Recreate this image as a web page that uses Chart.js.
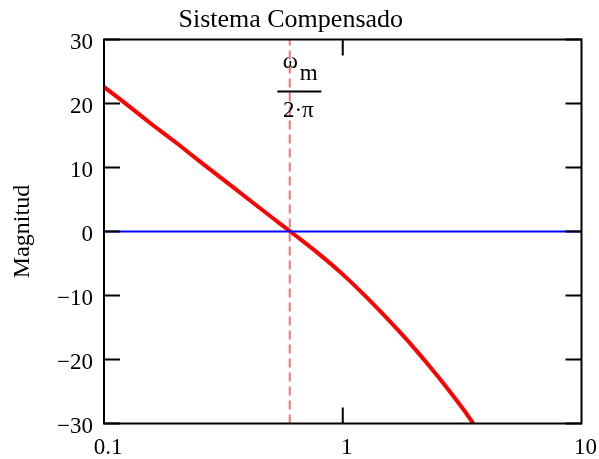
<!DOCTYPE html>
<html>
<head>
<meta charset="utf-8">
<script src="https://cdn.jsdelivr.net/npm/chart.js@4"></script>
<style>
  html, body { margin: 0; padding: 0; background: #fff; }
  canvas { display: block; }
</style>
</head>
<body>
<canvas id="chart" width="599" height="459"></canvas>
<script>
// valores
const freq = [0.1, 0.126, 0.158, 0.2, 0.251, 0.316, 0.398, 0.501, 0.603, 0.794, 1, 1.26, 1.58, 2, 2.51, 3.16, 3.55];
const magnitud = [22.6, 19.7, 16.8, 13.9, 11.0, 8.1, 5.2, 2.3, 0, -3.5, -6.7, -10.3, -14.1, -18.3, -22.7, -27.5, -30.2];
const cero = [0, 0];
const cruce = 0.6; // ω_m / 2π
const xTicks = [0.1, 1, 10];
const yTicks = [-30, -20, -10, 0, 10, 20, 30];

const FONT = "'Liberation Serif', 'DejaVu Serif', serif";

// marco y marcas hacia adentro, estilo Mathcad
const framePlugin = {
    id: "frame",
    afterDatasetsDraw(chart) {
        const { ctx, chartArea: a, scales } = chart;
        const len = 16;
        ctx.save();
        ctx.strokeStyle = "#000";
        ctx.lineWidth = 2;
        ctx.strokeRect(a.left, a.top, a.right - a.left, a.bottom - a.top);
        ctx.beginPath();
        yTicks.forEach(v => {
            const y = scales.y.getPixelForValue(v);
            ctx.moveTo(a.left, y); ctx.lineTo(a.left + len, y);
            ctx.moveTo(a.right, y); ctx.lineTo(a.right - len, y);
        });
        xTicks.slice(1, -1).forEach(v => {
            const x = scales.x.getPixelForValue(v);
            ctx.moveTo(x, a.top); ctx.lineTo(x, a.top + len);
            ctx.moveTo(x, a.bottom); ctx.lineTo(x, a.bottom - len);
        });
        ctx.stroke();

        // etiqueta ω_m / 2·π junto a la línea discontinua
        const x0 = scales.x.getPixelForValue(cruce);
        ctx.fillStyle = "#000";
        ctx.font = "23px " + FONT;
        ctx.textBaseline = "middle";
        ctx.textAlign = "center";
        ctx.fillText("ω", x0 + 0.5, 62);
        ctx.fillText("m", x0 + 19, 74);
        ctx.fillText("2·π", x0 + 8.5, 111);
        ctx.lineWidth = 2;
        ctx.beginPath();
        ctx.moveTo(x0 - 12.5, 91.5);
        ctx.lineTo(x0 + 31.5, 91.5);
        ctx.stroke();
        ctx.restore();
    }
};

const ctx = document.getElementById("chart").getContext("2d");
new Chart(ctx, {
    type: "line",
    data: {
        datasets: [
            {
                data: [cruce, cruce].map((x, i) => ({ x, y: [-30, 30][i] })),
                borderColor: "rgba(240, 90, 90, 0.85)",
                borderWidth: 2,
                borderDash: [9, 5],
                pointRadius: 0
            },
            {
                data: [0.1, 10].map((x, i) => ({ x, y: cero[i] })),
                borderColor: "#0000ff",
                borderWidth: 1.8,
                pointRadius: 0
            },
            {
                data: freq.map((x, i) => ({ x, y: magnitud[i] })),
                borderColor: "#ff0000",
                borderWidth: 4,
                pointRadius: 0,
                tension: 0.4
            }
        ]
    },
    options: {
        responsive: false,
        animation: false,
        layout: { padding: { left: 0, right: 17.5, top: 0, bottom: 0 } },
        plugins: {
            legend: { display: false },
            tooltip: { enabled: false },
            title: {
                display: true,
                text: "Sistema Compensado",
                color: "#000",
                font: { family: FONT, size: 26, weight: "normal" },
                padding: { top: 5, bottom: 3.3 }
            }
        },
        scales: {
            x: {
                type: "logarithmic",
                min: 0.1,
                max: 10,
                afterBuildTicks: axis => { axis.ticks = xTicks.map(v => ({ value: v })); },
                afterFit: axis => {
                    axis.height = 35.5;
                    axis.paddingLeft = 0;
                    axis.paddingRight = 0;
                },
                grid: { display: false, drawTicks: false },
                border: { display: false },
                ticks: {
                    color: "#000",
                    font: { family: FONT, size: 23 },
                    padding: 11,
                    labelOffset: 4,
                    maxRotation: 0,
                    autoSkip: false,
                    callback: v => String(v)
                }
            },
            y: {
                min: -30,
                max: 30,
                afterFit: axis => { axis.width = 104; },
                grid: { display: false, drawTicks: false },
                border: { display: false },
                ticks: {
                    stepSize: 10,
                    color: "#000",
                    font: { family: FONT, size: 23 },
                    padding: 11,
                    labelOffset: 3,
                    callback: v => String(v).replace("-", "\u2212")
                },
                title: {
                    display: true,
                    text: "Magnitud",
                    color: "#000",
                    font: { family: FONT, size: 24 },
                    padding: { top: 8, bottom: 0 }
                }
            }
        }
    },
    plugins: [framePlugin]
});
</script>
</body>
</html>
